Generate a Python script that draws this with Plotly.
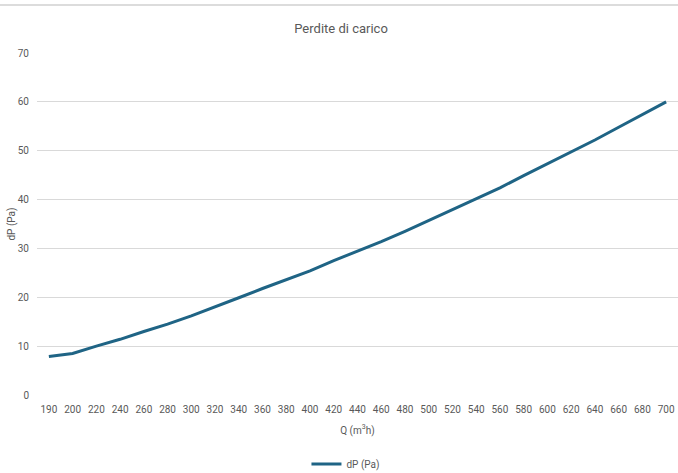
import plotly.graph_objects as go

portata = [190, 200, 220, 240, 260, 280, 300, 320, 340, 360, 380, 400, 420, 440,
           460, 480, 500, 520, 540, 560, 580, 600, 620, 640, 660, 680, 700]
perdite = [7.9, 8.5, 10.0, 11.4, 13.0, 14.5, 16.2, 18.0, 19.9, 21.8, 23.6, 25.4, 27.5, 29.4,
           31.4, 33.5, 35.7, 37.9, 40.2, 42.4, 44.9, 47.3, 49.8, 52.2, 54.8, 57.4, 60.0]
y_ticks = [0, 10, 20, 30, 40, 50, 60, 70]

FONT = "Roboto, Liberation Sans, sans-serif"
GREY = "#595959"

fig = go.Figure()
fig.add_trace(go.Scatter(
    x=[str(q) for q in portata], y=perdite, mode="lines", name="dP (Pa)",
    line=dict(color="#1f6485", width=3),
))

fig.update_layout(
    width=678, height=473,
    margin=dict(l=37, r=0, t=53, b=78, autoexpand=False),
    paper_bgcolor="white", plot_bgcolor="white",
    font=dict(family=FONT, color=GREY, size=10),
    title=dict(text="Perdite di carico", x=0.503, xanchor="center", y=1 - 28 / 473, yanchor="middle",
               font=dict(family=FONT, size=13, color=GREY)),
    showlegend=True,
    legend=dict(orientation="h", x=0.482, xanchor="center", yref="container", y=1 - 464 / 473,
                yanchor="middle", font=dict(family=FONT, size=10, color=GREY)),
    shapes=[dict(type="line", xref="paper", yref="paper", x0=-0.06, x1=1.0,
                 y0=1.1405, y1=1.1405, line=dict(color="#d0d0d0", width=1.5))],
)

fig.update_xaxes(
    type="category", range=[-0.5, len(portata) - 0.5], automargin=False,
    showgrid=False, showline=False, zeroline=False, ticks="",
    tickfont=dict(family=FONT, size=10, color=GREY), ticklabelstandoff=7,
    title=dict(text="Q (m<sup>3</sup>h)", font=dict(family=FONT, size=10, color=GREY), standoff=12),
)
fig.update_yaxes(
    range=[0, 70], tickvals=y_ticks, automargin=False,
    showgrid=True, gridcolor="#d9d9d9", gridwidth=1,
    zeroline=False, showline=False, ticks="",
    tickfont=dict(family=FONT, size=10, color=GREY), ticklabelstandoff=7,
    title=dict(text="dP (Pa)", font=dict(family=FONT, size=10, color=GREY), standoff=0),
)

fig.write_html("out.html", config={"displayModeBar": False},
               post_script="document.body.style.margin='0px';")
